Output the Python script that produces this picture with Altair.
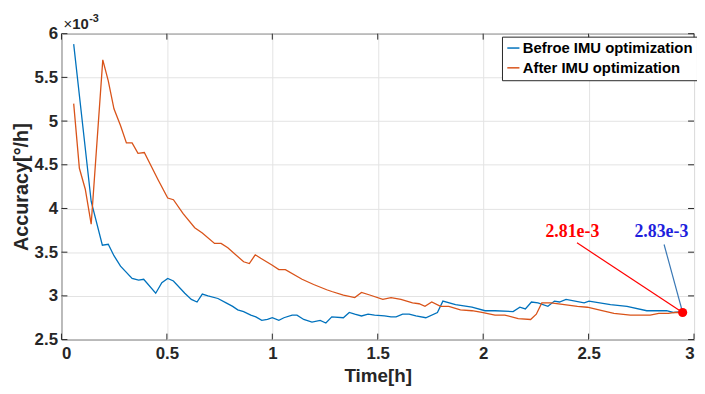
import altair as alt
import pandas as pd

# ---- data (accuracy values in units of 1e-3 deg/h) ----
before_t = [0.058, 0.141, 0.194, 0.222, 0.249, 0.280, 0.335, 0.366, 0.390, 0.447,
            0.476, 0.504, 0.531, 0.585, 0.616, 0.643, 0.668, 0.695, 0.742, 0.781,
            0.812, 0.836, 0.864, 0.898, 0.922, 0.950, 0.977, 1.000, 1.031, 1.055,
            1.094, 1.117, 1.149, 1.188, 1.227, 1.254, 1.282, 1.337, 1.365, 1.391,
            1.423, 1.454, 1.485, 1.532, 1.563, 1.587, 1.618, 1.649, 1.681, 1.728,
            1.783, 1.809, 1.869, 1.947, 2.009, 2.056, 2.142, 2.174, 2.200, 2.229,
            2.260, 2.307, 2.338, 2.362, 2.393, 2.479, 2.502, 2.604, 2.682, 2.776,
            2.823, 2.870, 2.901, 2.946]
before_v = [5.88, 4.08, 3.58, 3.59, 3.46, 3.34, 3.20, 3.18, 3.19, 3.03,
            3.15, 3.20, 3.17, 3.03, 2.96, 2.93, 3.02, 3.00, 2.97, 2.92,
            2.88, 2.84, 2.82, 2.78, 2.76, 2.72, 2.73, 2.75, 2.72, 2.75,
            2.78, 2.78, 2.73, 2.70, 2.72, 2.69, 2.76, 2.75, 2.81, 2.79,
            2.77, 2.79, 2.78, 2.77, 2.76, 2.76, 2.79, 2.79, 2.77, 2.75,
            2.81, 2.94, 2.90, 2.87, 2.83, 2.83, 2.82, 2.87, 2.85, 2.93,
            2.92, 2.88, 2.94, 2.93, 2.96, 2.92, 2.94, 2.90, 2.88, 2.83,
            2.83, 2.83, 2.81, 2.82]

after_t = [0.058, 0.085, 0.113, 0.141, 0.196, 0.222, 0.249, 0.280, 0.308, 0.335,
           0.363, 0.393, 0.460, 0.504, 0.531, 0.577, 0.632, 0.668, 0.726, 0.757,
           0.789, 0.864, 0.891, 0.919, 0.945, 1.000, 1.031, 1.062, 1.141, 1.196,
           1.258, 1.282, 1.337, 1.391, 1.423, 1.462, 1.524, 1.563, 1.610, 1.665,
           1.696, 1.724, 1.756, 1.798, 1.837, 1.892, 1.947, 1.994, 2.056, 2.103,
           2.166, 2.225, 2.252, 2.278, 2.322, 2.385, 2.447, 2.494, 2.564, 2.620,
           2.698, 2.761, 2.792, 2.833, 2.878, 2.911, 2.946]
after_v = [5.20, 4.46, 4.22, 3.82, 5.70, 5.46, 5.14, 4.95, 4.75, 4.75,
           4.63, 4.64, 4.32, 4.12, 4.10, 3.94, 3.78, 3.72, 3.60, 3.60,
           3.55, 3.39, 3.37, 3.47, 3.43, 3.35, 3.30, 3.30, 3.19, 3.13,
           3.07, 3.05, 3.01, 2.98, 3.04, 3.01, 2.96, 2.98, 2.96, 2.92,
           2.91, 2.88, 2.93, 2.88, 2.88, 2.84, 2.83, 2.81, 2.78, 2.78,
           2.74, 2.73, 2.79, 2.92, 2.92, 2.90, 2.88, 2.87, 2.83, 2.80,
           2.78, 2.78, 2.78, 2.80, 2.80, 2.81, 2.81]

series_names = ["Befroe IMU optimization", "After IMU optimization"]
series_colors = ["#0072BD", "#D95319"]

x_ticks = [0, 0.5, 1, 1.5, 2, 2.5, 3]
y_ticks = [2.5, 3, 3.5, 4, 4.5, 5, 5.5, 6]

ann_labels = ["2.81e-3", "2.83e-3"]
ann_label_t = [2.423, 2.845]
ann_label_v = [3.73, 3.73]
ann_line_t = [2.445, 2.858]
ann_line_v = [3.607, 3.588]
ann_end_t = [2.946, 2.946]
ann_end_v = [2.81, 2.81]
ann_text_colors = ["#ff0000", "#1f1fdd"]
ann_line_colors = ["#ff0000", "#3a78b5"]

# ---- build tables ----
lines_df = pd.concat([
    pd.DataFrame({"t": before_t, "v": before_v, "series": series_names[0]}),
    pd.DataFrame({"t": after_t, "v": after_v, "series": series_names[1]}),
])
ann_df = pd.DataFrame({
    "label": ann_labels, "lt": ann_label_t, "lv": ann_label_v,
    "st": ann_line_t, "sv": ann_line_v, "et": ann_end_t, "ev": ann_end_v,
    "tc": ann_text_colors, "lc": ann_line_colors,
})
xt_df = pd.DataFrame({"t": x_ticks})
yt_df = pd.DataFrame({"v": y_ticks})

W, H = 639, 309
FONT = "Liberation Sans"
DARK = "#262626"

xscale = alt.Scale(domain=[0, 3], nice=False, zero=False)
yscale = alt.Scale(domain=[2.5, 6], nice=False, zero=False)

xaxis = alt.Axis(values=x_ticks, format="~g", title="Time[h]", ticks=False, domain=False,
                 grid=True, labelPadding=6, titlePadding=5, titleFontSize=19)
yaxis = alt.Axis(values=y_ticks, format="~g", title="Accuracy[°/h]", ticks=False, domain=False,
                 grid=True, labelPadding=4, titlePadding=3, titleFontSize=20)


def X(field):
    return alt.X(field, scale=xscale, axis=xaxis, title="Time[h]")


def Y(field):
    return alt.Y(field, scale=yscale, axis=yaxis, title="Accuracy[°/h]")


lines = alt.Chart(lines_df).mark_line(strokeWidth=1.3).encode(
    x=X("t:Q"),
    y=Y("v:Q"),
    color=alt.Color("series:N", scale=alt.Scale(domain=series_names, range=series_colors),
                    legend=alt.Legend(title=None, orient="none", legendX=445, legendY=3)),
    detail="series:N",
)

ann_lines = alt.Chart(ann_df).mark_rule(strokeWidth=1.2).encode(
    x=X("st:Q"), y=Y("sv:Q"),
    x2="et:Q", y2="ev:Q",
    color=alt.Color("lc:N", scale=None, legend=None),
)
ann_text = alt.Chart(ann_df).mark_text(
    font="Liberation Serif", fontWeight="bold", fontSize=18, baseline="middle", align="center"
).encode(
    x=X("lt:Q"), y=Y("lv:Q"),
    text="label:N",
    color=alt.Color("tc:N", scale=None, legend=None),
)
end_point = alt.Chart(ann_df.head(1)).mark_point(
    filled=True, size=85, color="#ff0000", opacity=1, shape="circle"
).encode(x=X("et:Q"), y=Y("ev:Q"))

tick_len = 6
bx = alt.Chart(xt_df).mark_rule(color=DARK).encode(
    x=X("t:Q"), y=alt.value(H), y2=alt.value(H - tick_len))
tx = alt.Chart(xt_df).mark_rule(color=DARK).encode(
    x=X("t:Q"), y=alt.value(0), y2=alt.value(tick_len))
ly = alt.Chart(yt_df).mark_rule(color=DARK).encode(
    y=Y("v:Q"), x=alt.value(0), x2=alt.value(tick_len))
ry = alt.Chart(yt_df).mark_rule(color=DARK).encode(
    y=Y("v:Q"), x=alt.value(W), x2=alt.value(W - tick_len))

exp_df = pd.DataFrame({"a": ["×"], "b": ["10"], "c": ["-3"]})
exp_x = alt.Chart(exp_df).mark_text(font=FONT, fontSize=15, color=DARK, align="left",
                                    baseline="alphabetic").encode(
    x=alt.value(2), y=alt.value(-5), text="a:N")
exp_10 = alt.Chart(exp_df).mark_text(font=FONT, fontSize=15, fontWeight="bold", color=DARK,
                                     align="left", baseline="alphabetic").encode(
    x=alt.value(11), y=alt.value(-5), text="b:N")
exp_3 = alt.Chart(exp_df).mark_text(font=FONT, fontSize=11, fontWeight="bold", color=DARK,
                                    align="left", baseline="alphabetic").encode(
    x=alt.value(28), y=alt.value(-12), text="c:N")

chart = alt.layer(
    lines, bx, tx, ly, ry, ann_lines, ann_text, end_point, exp_x, exp_10, exp_3
).properties(
    width=W, height=H,
    autosize=alt.AutoSizeParams(type="none"),
    padding={"left": 54, "top": 24, "right": 3, "bottom": 50},
).configure_view(
    stroke=DARK, strokeWidth=1
).configure_axis(
    labelFont=FONT, labelFontSize=17, labelFontWeight="bold", labelColor=DARK,
    titleFont=FONT, titleFontWeight="bold", titleColor=DARK,
    gridColor="#e3e3e3", gridWidth=1,
).configure_legend(
    fillColor="white", strokeColor=DARK, padding=4, rowPadding=4,
    labelFont=FONT, labelFontSize=15, labelFontWeight="bold", labelColor="#000000",
    symbolType="stroke", symbolSize=150, symbolStrokeWidth=1.5, labelOffset=2,
    labelLimit=400, cornerRadius=0,
)

chart.save("out.html", embed_options={"renderer": "svg", "actions": False})
